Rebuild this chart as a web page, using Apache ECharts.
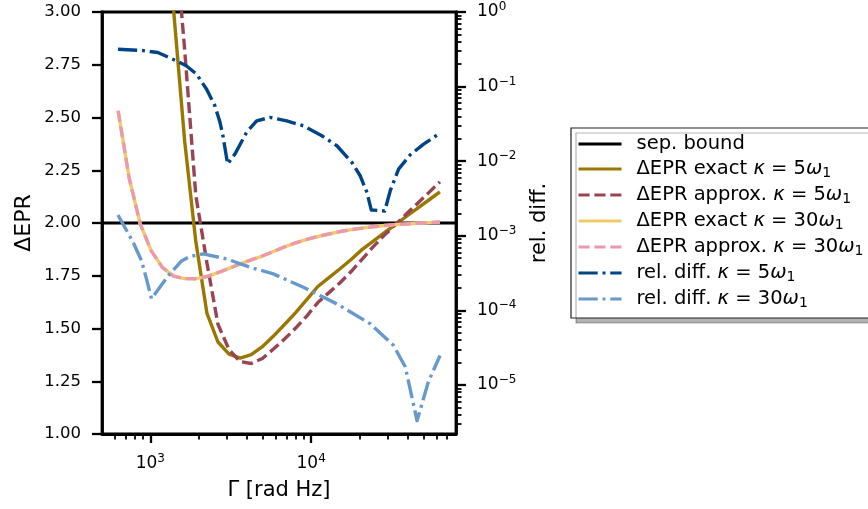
<!DOCTYPE html>
<html><head><meta charset="utf-8">
<script src="https://cdn.jsdelivr.net/npm/echarts@6/dist/echarts.min.js"></script>
<style>html,body{margin:0;padding:0;background:#fff}#c{width:868px;height:509px}</style>
</head><body><div id="c"></div>
<script>
// ---------- data ----------
const gammaEPR = [631, 740, 867, 1016, 1191, 1396, 1636, 1918, 2248, 2634, 3088, 3619, 4242, 4972, 5828, 6831, 8006, 9384, 11000, 12893, 15112, 17713, 20761, 24334, 28522, 33431, 39184, 45928, 53830, 63096];
const eprExact5 = [11.5, 8.5, 6.3, 4.8, 3.75, 3.01, 2.388, 1.913, 1.573, 1.436, 1.379, 1.360, 1.3765, 1.414, 1.464, 1.519, 1.575, 1.637, 1.699, 1.741, 1.783, 1.827, 1.875, 1.9145, 1.954, 1.993, 2.032, 2.071, 2.109, 2.148];
const eprApprox5 = [15.0, 10.8, 7.8, 5.8, 4.4, 3.45, 2.82, 2.132, 1.812, 1.52, 1.40, 1.343, 1.334, 1.358, 1.4026, 1.45, 1.502, 1.559, 1.623, 1.670, 1.717, 1.770, 1.829, 1.888, 1.9425, 1.992, 2.044, 2.094, 2.144, 2.195];
const eprExact30 = [2.532, 2.212, 1.9945, 1.8667, 1.789, 1.748, 1.7364, 1.736, 1.746, 1.765, 1.785, 1.806, 1.8255, 1.8435, 1.865, 1.8866, 1.906, 1.922, 1.936, 1.948, 1.9595, 1.9685, 1.976, 1.982, 1.988, 1.9925, 1.9953, 1.9986, 2.002, 2.005];
const eprApprox30 = [2.532, 2.212, 1.9945, 1.8667, 1.789, 1.748, 1.7364, 1.736, 1.746, 1.765, 1.785, 1.806, 1.8255, 1.8435, 1.865, 1.8866, 1.906, 1.922, 1.936, 1.948, 1.9595, 1.9685, 1.976, 1.982, 1.988, 1.9925, 1.9953, 1.9986, 2.002, 2.005];
const gammaRel5 = [630, 902, 1114, 1456, 1681, 1940, 2239, 2522, 2710, 2829, 3025, 3357, 3973, 4583, 5548, 7048, 8946, 11650, 14440, 17900, 20160, 22200, 23620, 28660, 31000, 34930, 41290, 49980, 63220];
const relDiff5 = [0.317, 0.304, 0.286, 0.221, 0.189, 0.147, 0.0923, 0.0552, 0.0334, 0.0219, 0.00915, 0.01245, 0.0245, 0.0347, 0.0386, 0.0347, 0.0298, 0.0219, 0.0161, 0.00964, 0.00638, 0.00382, 0.00222, 0.00215, 0.00402, 0.00784, 0.0122, 0.0169, 0.0238];
const gammaRel30 = [630, 782, 882, 947, 1018, 1291, 1565, 1762, 2133, 2983, 4166, 5818, 8946, 14440, 23280, 32510, 38450, 45480, 53460, 63220];
const relDiff30 = [1.9e-3, 8.18e-4, 4.64e-4, 2.64e-4, 1.43e-4, 2.9e-4, 4.6e-4, 5.28e-4, 5.71e-4, 4.89e-4, 3.79e-4, 3.08e-4, 2.04e-4, 1.22e-4, 6.6e-5, 3.38e-5, 1.74e-5, 3.32e-6, 1.10e-5, 2.48e-5];
const sepBound = 2.0;

const xRange = [501.19, 79432.8];
const yLeftRange = [1.0, 3.0];
const yRightRange = [2.2e-6, 1.0];
const xMajorTicks = [1000, 10000];
const xMinorTicks = [600, 700, 800, 900, 2000, 3000, 4000, 5000, 6000, 7000, 8000, 9000, 20000, 30000, 40000, 50000, 60000, 70000];
const yRightMajorTicks = [1e-5, 1e-4, 1e-3, 1e-2, 1e-1, 1];
const yRightMinorTicks = [];
for (let e = -6; e <= -1; e++) for (let m = 2; m <= 9; m++) { const v = m * Math.pow(10, e); if (v >= yRightRange[0]) yRightMinorTicks.push(v); }

const names = ['sep. bound', 'ΔEPR exact κ = 5ω1', 'ΔEPR approx. κ = 5ω1', 'ΔEPR exact κ = 30ω1', 'ΔEPR approx. κ = 30ω1', 'rel. diff. κ = 5ω1', 'rel. diff. κ = 30ω1'];
const richNames = {
  'sep. bound': '{t|sep. bound}',
  'ΔEPR exact κ = 5ω1': '{t|ΔEPR exact }{i|κ}{t| = 5}{i|ω}{sub|1}',
  'ΔEPR approx. κ = 5ω1': '{t|ΔEPR approx. }{i|κ}{t| = 5}{i|ω}{sub|1}',
  'ΔEPR exact κ = 30ω1': '{t|ΔEPR exact }{i|κ}{t| = 30}{i|ω}{sub|1}',
  'ΔEPR approx. κ = 30ω1': '{t|ΔEPR approx. }{i|κ}{t| = 30}{i|ω}{sub|1}',
  'rel. diff. κ = 5ω1': '{t|rel. diff. }{i|κ}{t| = 5}{i|ω}{sub|1}',
  'rel. diff. κ = 30ω1': '{t|rel. diff. }{i|κ}{t| = 30}{i|ω}{sub|1}'
};
const colors = ['#000000', '#997700', '#994455', '#EECC66', '#EE99AA', '#004488', '#6699CC'];

const pairs = (xs, ys) => xs.map((x, i) => [x, ys[i]]);
const FONT = 'DejaVu Sans';
const LW = 3.4;
const dashed = [11.1, 4.8];
const dashdot = [19.2, 4.8, 3, 4.8];

function powLabel(v) {
  const e = Math.round(Math.log10(v));
  return '{b|10}{s|' + String(e).replace('-', '\u2212') + '}';
}
const supRich = {
  b: { fontFamily: FONT, fontSize: 17, lineHeight: 22, color: '#000', verticalAlign: 'middle' },
  s: { fontFamily: FONT, fontSize: 12, lineHeight: 12, color: '#000', verticalAlign: 'top' }
};

const chart = echarts.init(document.getElementById('c'), null, { renderer: 'canvas' });

function lineSeries(i, xs, ys, yAxisIndex, dash) {
  return {
    name: names[i], type: 'line', xAxisIndex: 0, yAxisIndex: yAxisIndex,
    data: pairs(xs, ys), symbol: 'none', showSymbol: false, clip: true,
    lineStyle: { color: colors[i], width: i === 0 ? 2.8 : LW, type: dash || 'solid', cap: 'butt', join: 'round' },
    itemStyle: { color: colors[i] }, emphasis: { disabled: true }
  };
}

const option = {
  animation: false,
  backgroundColor: '#fff',
  grid: { left: 102, right: 412, top: 12, bottom: 75, show: true, borderColor: '#000', borderWidth: 2.8, backgroundColor: 'transparent' },
  xAxis: [
    {
      type: 'log', logBase: 10, min: xRange[0], max: xRange[1], position: 'bottom',
      name: 'Γ [rad Hz]', nameLocation: 'middle', nameGap: 46,
      nameTextStyle: { fontFamily: FONT, fontSize: 21, color: '#000' },
      axisLine: { show: true, onZero: false, lineStyle: { color: '#000', width: 2.8 } },
      axisTick: { show: true, inside: false, length: 9, lineStyle: { color: '#000', width: 2.3 }, customValues: xMajorTicks },
      axisLabel: { show: true, margin: 19, formatter: powLabel, rich: supRich, customValues: xMajorTicks },
      splitLine: { show: false }, minorTick: { show: false }
    },
    {
      type: 'log', logBase: 10, min: xRange[0], max: xRange[1], position: 'bottom', gridIndex: 0,
      axisLine: { show: false },
      axisTick: { show: true, inside: false, length: 5.5, lineStyle: { color: '#000', width: 1.8 }, customValues: xMinorTicks },
      axisLabel: { show: false }, splitLine: { show: false }
    }
  ],
  yAxis: [
    {
      type: 'value', min: yLeftRange[0], max: yLeftRange[1], interval: 0.25, position: 'left',
      name: 'ΔEPR', nameLocation: 'middle', nameGap: 67, nameRotate: 90,
      nameTextStyle: { fontFamily: FONT, fontSize: 22, color: '#000' },
      axisLine: { show: true, onZero: false, lineStyle: { color: '#000', width: 2.8 } },
      axisTick: { show: true, inside: false, length: 10, lineStyle: { color: '#000', width: 2.3 } },
      axisLabel: { margin: 21, fontFamily: FONT, fontSize: 16.5, color: '#000', formatter: v => v.toFixed(2) },
      splitLine: { show: false }
    },
    {
      type: 'log', logBase: 10, min: yRightRange[0], max: yRightRange[1], position: 'right',
      name: 'rel. diff.', nameLocation: 'middle', nameGap: 73, nameRotate: 90,
      nameTextStyle: { fontFamily: FONT, fontSize: 21, color: '#000' },
      axisLine: { show: true, onZero: false, lineStyle: { color: '#000', width: 2.8 } },
      axisTick: { show: true, inside: false, length: 10, lineStyle: { color: '#000', width: 2.3 }, customValues: yRightMajorTicks },
      axisLabel: { show: true, margin: 21, formatter: powLabel, rich: supRich, customValues: yRightMajorTicks },
      splitLine: { show: false }
    },
    {
      type: 'log', logBase: 10, min: yRightRange[0], max: yRightRange[1], position: 'right',
      axisLine: { show: false },
      axisTick: { show: true, inside: false, length: 5.5, lineStyle: { color: '#000', width: 1.8 }, customValues: yRightMinorTicks },
      axisLabel: { show: false }, splitLine: { show: false }
    }
  ],
  legend: {
    orient: 'vertical', left: 571, top: 128,
    padding: [6, 6, 8, 6],
    itemWidth: 43, itemHeight: 20, itemGap: 5,
    backgroundColor: '#fff', borderColor: '#222', borderWidth: 1.2, borderRadius: 0,
    shadowColor: 'rgba(0,0,0,0.3)', shadowBlur: 0, shadowOffsetX: 5, shadowOffsetY: 5,
    data: names.map(n => ({ name: n })),
    lineStyle: { width: 3 },
    itemStyle: { opacity: 0, color: 'transparent', borderColor: 'transparent', borderWidth: 0 },
    formatter: n => richNames[n],
    selectedMode: false,
    textStyle: {
      fontFamily: FONT, fontSize: 19.5, color: '#000', padding: [0, 0, 0, 10],
      rich: {
        t: { fontFamily: FONT, fontSize: 19.5, lineHeight: 22, color: '#000' },
        i: { fontFamily: FONT, fontSize: 19.5, lineHeight: 22, fontStyle: 'italic', color: '#000' },
        sub: { fontFamily: FONT, fontSize: 14, lineHeight: 14, verticalAlign: 'bottom', color: '#000' }
      }
    }
  },
  series: [
    lineSeries(0, xRange, [sepBound, sepBound], 0),
    lineSeries(1, gammaEPR, eprExact5, 0),
    lineSeries(2, gammaEPR, eprApprox5, 0, dashed),
    lineSeries(3, gammaEPR, eprExact30, 0),
    lineSeries(4, gammaEPR, eprApprox30, 0, dashed),
    lineSeries(5, gammaRel5, relDiff5, 1, dashdot),
    lineSeries(6, gammaRel30, relDiff30, 1, dashdot)
  ]
};
chart.setOption(option);
</script>
</body></html>
